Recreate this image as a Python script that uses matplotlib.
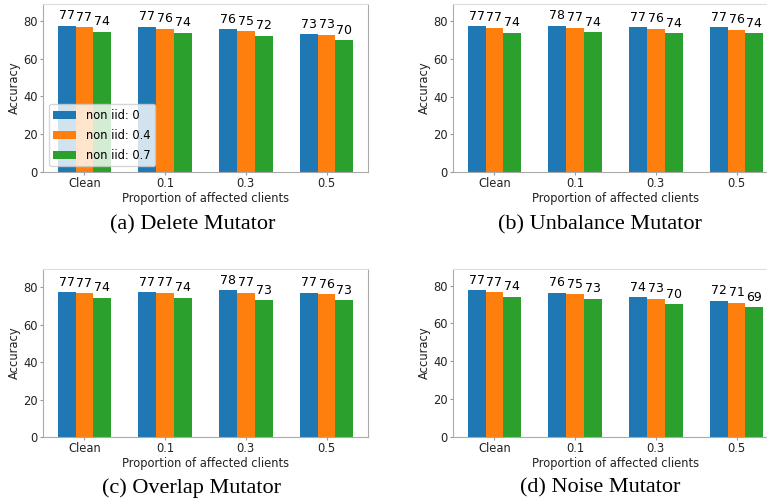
import matplotlib
matplotlib.use("Agg")
import matplotlib.pyplot as plt
import numpy as np

categories = ["Clean", "0.1", "0.3", "0.5"]
series_names = ["non iid: 0", "non iid: 0.4", "non iid: 0.7"]
colors = ["#1f77b4", "#ff7f0e", "#2ca02c"]

delete_vals = [
    [77.3, 76.8, 75.6, 73.0],
    [76.6, 75.8, 74.6, 72.6],
    [74.2, 73.6, 72.1, 69.7],
]
unbalance_vals = [
    [77.4, 77.6, 77.0, 76.8],
    [76.6, 76.6, 76.0, 75.6],
    [74.1, 74.2, 73.6, 73.6],
]
overlap_vals = [
    [77.4, 77.3, 78.2, 77.1],
    [76.6, 77.0, 76.9, 76.2],
    [74.3, 74.3, 73.1, 73.1],
]
noise_vals = [
    [77.4, 76.1, 73.7, 72.1],
    [76.6, 75.3, 73.0, 71.0],
    [74.2, 73.0, 70.0, 68.6],
]
captions = ["(a) Delete Mutator", "(b) Unbalance Mutator",
            "(c) Overlap Mutator", "(d) Noise Mutator"]

W, H = 767, 504
fig = plt.figure(figsize=(W / 100, H / 100), dpi=100)
plt.rcParams['font.family'] = ['DejaVu Sans']

def px_axes(l, t, r, b):
    return fig.add_axes([l / W, 1 - b / H, (r - l) / W, (b - t) / H])

panels = [
    (delete_vals, (43, 4, 368, 172), True),
    (unbalance_vals, (453, 4, 778, 172), False),
    (overlap_vals, (43, 268.5, 368, 437), False),
    (noise_vals, (453, 268.5, 778, 437), False),
]
cap_pos = [(193, 225), (600, 225), (191, 488), (600, 488)]

fs = 8.3
width = 0.22
x = np.arange(len(categories))
for (vals, box, show_leg), cap, cp in zip(panels, captions, cap_pos):
    ax = px_axes(*box)
    for i, (name, col) in enumerate(zip(series_names, colors)):
        bars = ax.bar(x + (i - 1) * width, vals[i], width, color=col, label=name)
        for rect, v in zip(bars, vals[i]):
            ax.annotate(f"{round(v)}", (rect.get_x() + rect.get_width() / 2, rect.get_height()),
                        xytext=(0, 2.5), textcoords="offset points",
                        ha="center", va="bottom", fontsize=9)
    mx = max(max(v) for v in vals)
    ax.set_ylim(0, mx * 1.15)
    ax.set_xticks(x)
    ax.set_xticklabels(categories)
    ax.set_yticks([0, 20, 40, 60, 80])
    ax.tick_params(labelsize=fs, length=2.5, pad=1.2, color="#999999", labelcolor="#222222")
    ax.set_ylabel("Accuracy", fontsize=fs, labelpad=2, color="#222222")
    ax.set_xlabel("Proportion of affected clients", fontsize=fs, labelpad=1, color="#222222")
    for s in ["left", "bottom", "right"]:
        ax.spines[s].set_color("#aaaaaa")
    ax.spines["top"].set_color("#dddddd")
    if show_leg:
        ax.legend(loc="lower left", fontsize=fs, labelspacing=0.6)
    fig.text(cp[0] / W, 1 - cp[1] / H, cap, ha="center", va="center",
             fontsize=16, family="Liberation Serif")

fig.savefig("out.png", dpi=100)
